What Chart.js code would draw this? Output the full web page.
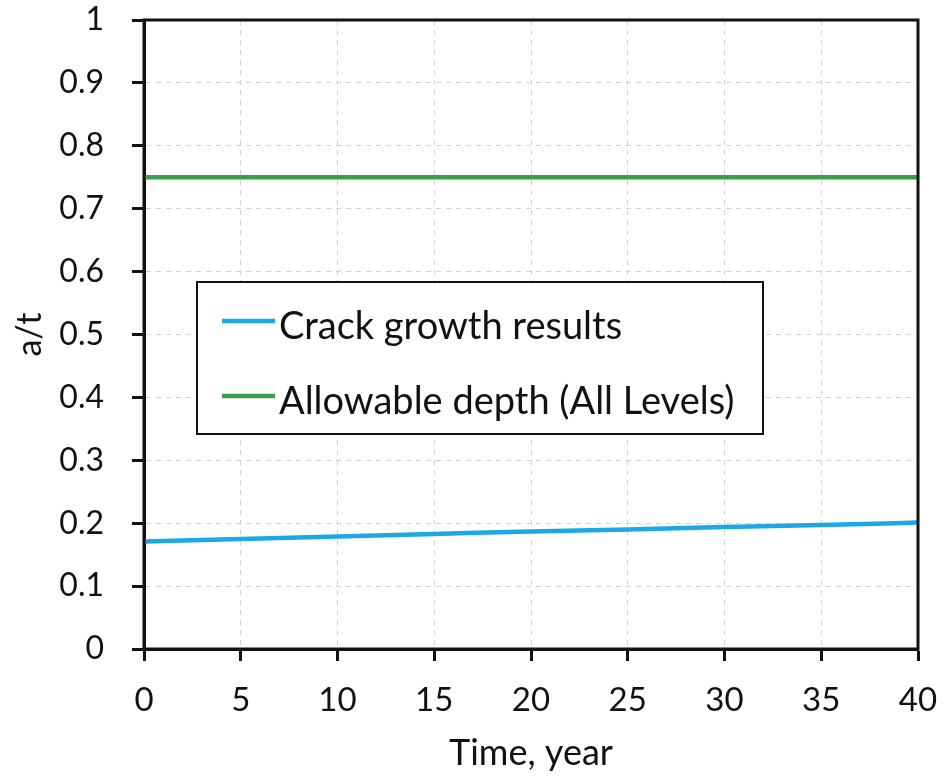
<!DOCTYPE html>
<html>
<head>
<meta charset="utf-8">
<script src="https://cdn.jsdelivr.net/npm/chart.js@4/dist/chart.umd.min.js"></script>
<style>
  html, body { margin: 0; padding: 0; background: #fff; }
  #wrap { width: 946px; height: 781px; position: relative; }
</style>
</head>
<body>
<div id="wrap"><canvas id="chart"></canvas></div>
<script>
// Datos
const years = [0, 5, 10, 15, 20, 25, 30, 35, 40];
const crackGrowth = [0.171, 0.175, 0.179, 0.183, 0.187, 0.190, 0.194, 0.197, 0.201];
const allowableDepth = [0.75, 0.75, 0.75, 0.75, 0.75, 0.75, 0.75, 0.75, 0.75];
const seriesLabels = ['Crack growth results', 'Allowable depth (All Levels)'];
const seriesColors = ['#1ba8e4', '#3a9e4b'];

const FONT = 'Lato, "Open Sans", sans-serif';

// marco negro alrededor del área de trazado + leyenda dentro
const framePlugin = {
    id: 'frame',
    afterDraw(chart) {
        const { ctx, chartArea: a } = chart;
        ctx.save();
        ctx.setLineDash([]);
        ctx.strokeStyle = '#111';
        ctx.lineWidth = 3;
        ctx.strokeRect(a.left, a.top, a.right - a.left, a.bottom - a.top);

        // leyenda
        const bx = a.left + 53, by = 282, bw = 566, bh = 152;
        ctx.fillStyle = '#fff';
        ctx.fillRect(bx, by, bw, bh);
        ctx.lineWidth = 2;
        ctx.strokeRect(bx, by, bw, bh);
        ctx.font = '38px ' + FONT;
        ctx.textBaseline = 'middle';
        ctx.textAlign = 'left';
        chart.data.datasets.forEach((ds, i) => {
            const y = by + 39 + i * 75;
            ctx.strokeStyle = ds.borderColor;
            ctx.lineWidth = 4.5;
            ctx.beginPath();
            ctx.moveTo(bx + 25, y);
            ctx.lineTo(bx + 78, y);
            ctx.stroke();
            ctx.fillStyle = '#111';
            ctx.fillText(ds.label, bx + 82, y + 6);
        });
        ctx.restore();
    }
};

new Chart(document.getElementById('chart'), {
    type: 'line',
    data: {
        labels: years,
        datasets: [
            {
                label: seriesLabels[0],
                data: years.map((x, i) => ({ x: x, y: crackGrowth[i] })),
                borderColor: seriesColors[0],
                borderWidth: 4.5,
                pointRadius: 0,
                cubicInterpolationMode: 'monotone'
            },
            {
                label: seriesLabels[1],
                data: years.map((x, i) => ({ x: x, y: allowableDepth[i] })),
                borderColor: seriesColors[1],
                borderWidth: 4.5,
                pointRadius: 0
            }
        ]
    },
    options: {
        responsive: true,
        maintainAspectRatio: false,
        animation: false,
        layout: { padding: { top: 20, right: 28, left: 0, bottom: 0 } },
        plugins: {
            legend: { display: false },
            tooltip: { enabled: false }
        },
        scales: {
            x: {
                type: 'linear',
                min: 0,
                max: 40,
                ticks: { stepSize: 5, color: '#111', font: { family: FONT, size: 33 }, padding: 20, maxRotation: 0 },
                grid: { color: '#d2d2d2', lineWidth: 1, tickLength: 12, tickColor: '#111', tickWidth: 3, tickBorderDash: [] },
                border: { display: true, color: '#111', width: 3, dash: [5, 5] },
                title: { display: true, text: 'Time, year', color: '#111', font: { family: FONT, size: 36 }, padding: { top: 0, bottom: 6 } },
                afterFit(scale) {
                    scale.height = 132;
                    scale.paddingLeft = 0;
                    scale.paddingRight = 0;
                }
            },
            y: {
                min: 0,
                max: 1,
                ticks: {
                    stepSize: 0.1,
                    color: '#111',
                    font: { family: FONT, size: 32 },
                    padding: 28,
                    callback: v => String(Number(v.toFixed(1)))
                },
                grid: { color: '#d2d2d2', lineWidth: 1, tickLength: 12, tickColor: '#111', tickWidth: 3, tickBorderDash: [] },
                border: { display: true, color: '#111', width: 3, dash: [5, 5] },
                title: { display: true, text: 'a/t', color: '#111', font: { family: FONT, size: 34 }, padding: { top: 10, bottom: 0 } },
                afterFit(scale) {
                    scale.width = 144;
                    scale.paddingTop = 0;
                    scale.paddingBottom = 0;
                }
            }
        }
    },
    plugins: [framePlugin]
});
</script>
</body>
</html>
